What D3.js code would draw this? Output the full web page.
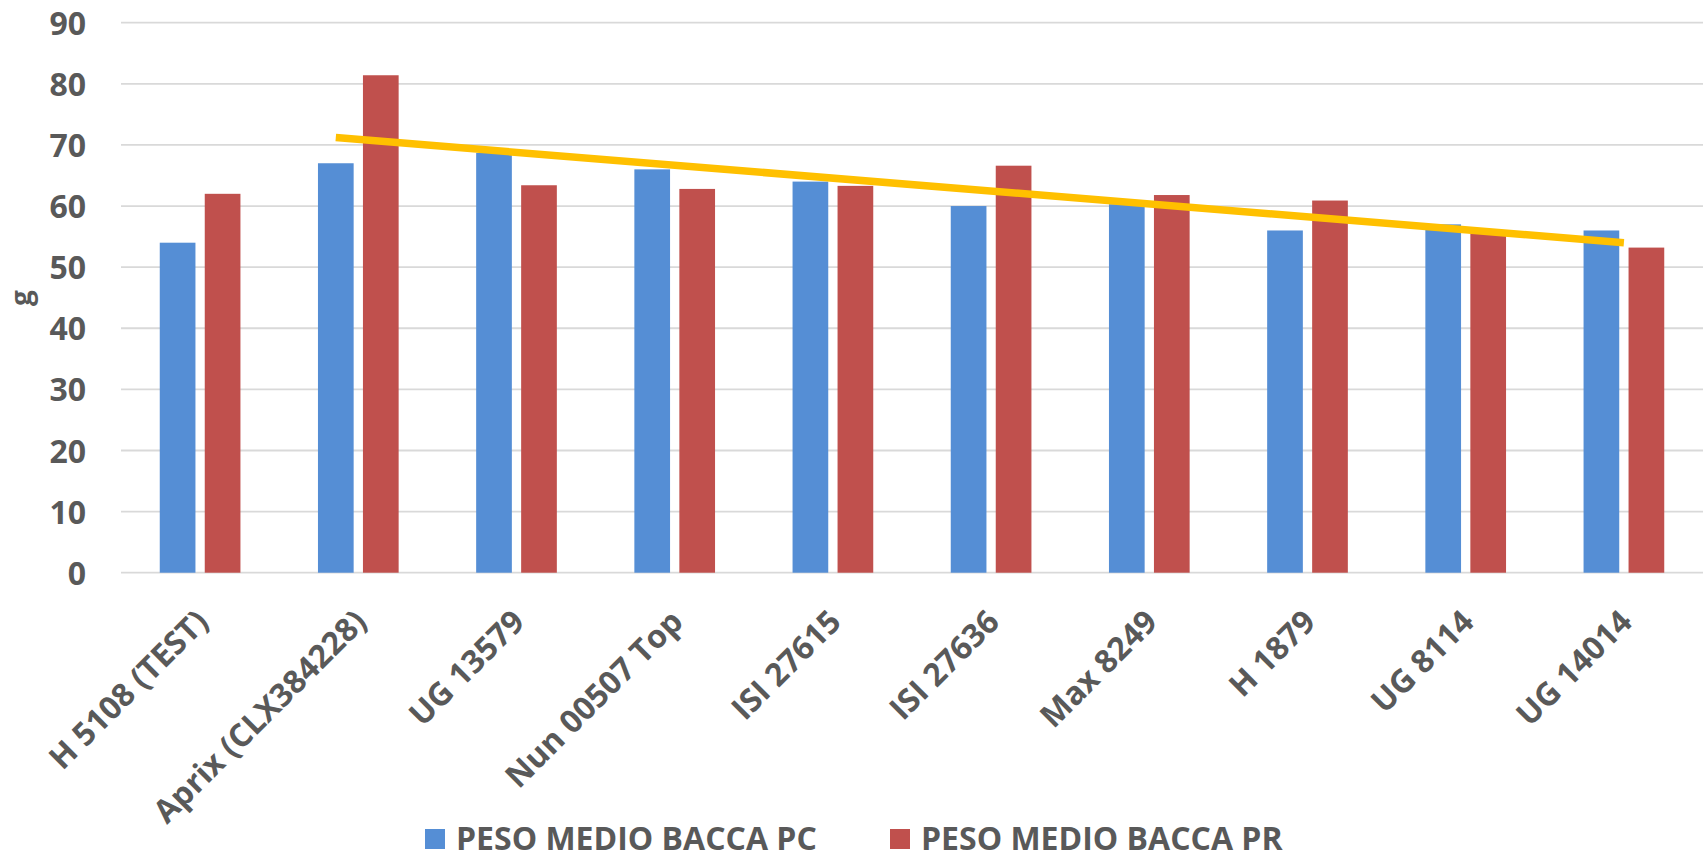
<!DOCTYPE html>
<html>
<head>
<meta charset="utf-8">
<script src="https://cdn.jsdelivr.net/npm/d3@7"></script>
<style>
  body { margin: 0; background: #fff; }
  text { font-family: "Open Sans", "DejaVu Sans", sans-serif; font-weight: bold; fill: #595959; }
</style>
</head>
<body>
<div id="chart"></div>
<script>
// Data
const categories = ["H 5108 (TEST)", "Aprix (CLX384228)", "UG 13579", "Nun 00507 Top", "ISI 27615",
  "ISI 27636", "Max 8249", "H 1879", "UG 8114", "UG 14014"];
const seriesNames = ["PESO MEDIO BACCA PC", "PESO MEDIO BACCA PR"];
const pcValues = [54, 67, 68.7, 66, 64, 60, 60.3, 56, 57, 56];
const prValues = [62, 81.4, 63.4, 62.8, 63.3, 66.6, 61.8, 60.9, 55.7, 53.2];
const yTicks = [0, 10, 20, 30, 40, 50, 60, 70, 80, 90];
const yLabel = "g";
// trend line drawn on the chart (start at PC bar of Aprix, end at UG 14014)
const trendStart = { category: "Aprix (CLX384228)", value: 71.2 };
const trendEnd = { category: "UG 14014", value: 54.0 };

// Dimensions
const width = 1708;
const height = 853;
const colors = ["#558ED5", "#C0504D"];

const svg = d3.select("#chart")
  .append("svg")
  .attr("width", width)
  .attr("height", height);

// Scales
const x = d3.scaleBand()
  .domain(categories)
  .range([121, 1703]);

const groupW = x.bandwidth() * 0.51;
const xSub = d3.scaleBand()
  .domain(seriesNames)
  .range([0, groupW])
  .paddingInner(0.2067);

const y = d3.scaleLinear()
  .domain([0, 90])
  .range([572.7, 22.7]);

// Gridlines
svg.append("g")
  .selectAll("line")
  .data(yTicks)
  .join("line")
  .attr("x1", x.range()[0])
  .attr("x2", x.range()[1])
  .attr("y1", d => y(d))
  .attr("y2", d => y(d))
  .attr("stroke", "#d9d9d9")
  .attr("stroke-width", 1.8);

// Y axis labels
const yAxis = svg.append("g")
  .attr("transform", "translate(86,0)")
  .call(d3.axisLeft(y).tickValues(yTicks).tickSize(0).tickPadding(0));
yAxis.select(".domain").remove();
yAxis.selectAll("text")
  .attr("dy", "0.36em")
  .style("font-size", "32px")
  .style("font-family", null)
  .attr("fill", null);

svg.append("text")
  .attr("transform", "translate(31,298) rotate(-90)")
  .attr("text-anchor", "middle")
  .style("font-size", "28px")
  .text(yLabel);

// Bars
const rows = categories.map((c, i) => ({ category: c, values: [pcValues[i], prValues[i]] }));

const groups = svg.append("g")
  .selectAll("g")
  .data(rows)
  .join("g")
  .attr("transform", d => `translate(${x(d.category) + (x.bandwidth() - groupW) / 2},0)`);

groups.selectAll("rect")
  .data(d => d.values.map((v, k) => ({ name: seriesNames[k], value: v, k })))
  .join("rect")
  .attr("x", d => xSub(d.name))
  .attr("width", xSub.bandwidth())
  .attr("y", d => y(d.value))
  .attr("height", d => y(0) - y(d.value))
  .attr("fill", d => colors[d.k]);

// X labels
svg.append("g")
  .selectAll("text")
  .data(categories)
  .join("text")
  .attr("text-anchor", "end")
  .attr("transform", d => `translate(${x(d) + x.bandwidth() / 2 + 10},${y(0) + 51}) rotate(-45)`)
  .style("font-size", "32px")
  .text(d => d);

// Trend line
const x0 = x(trendStart.category) + (x.bandwidth() - groupW) / 2 + xSub(seriesNames[0]) + xSub.bandwidth() / 2;
const x1 = x(trendEnd.category) + x.bandwidth() / 2;
svg.append("line")
  .attr("x1", x0)
  .attr("y1", y(trendStart.value))
  .attr("x2", x1)
  .attr("y2", y(trendEnd.value))
  .attr("stroke", "#FFC000")
  .attr("stroke-width", 7.5);

// Legend
const legendX = [425, 890];
const legend = svg.append("g")
  .selectAll("g")
  .data(seriesNames)
  .join("g")
  .attr("transform", (d, i) => `translate(${legendX[i]},829)`);

legend.append("rect")
  .attr("width", 20)
  .attr("height", 20)
  .attr("fill", (d, i) => colors[i]);

legend.append("text")
  .attr("x", 31)
  .attr("y", 21)
  .style("font-size", "32px")
  .text(d => d);
</script>
</body>
</html>
